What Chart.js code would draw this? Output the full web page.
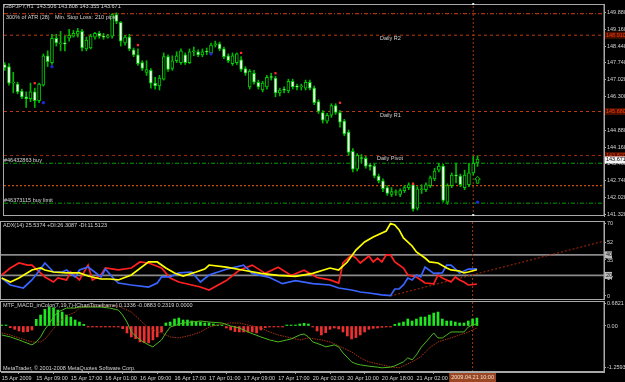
<!DOCTYPE html>
<html>
<head>
<meta charset="utf-8">
<title>GBPJPY,H1</title>
<script src="https://cdn.jsdelivr.net/npm/chart.js@4.4.1/dist/chart.umd.min.js"></script>
<style>
  html, body { margin: 0; padding: 0; background: #000; overflow: hidden; }
  #wrap { position: relative; width: 625px; height: 382px; background: #000; }
  #wrap canvas { position: absolute; left: 0; }
</style>
</head>
<body>
<div id="wrap">
  <canvas id="price" width="625" height="220" style="top:0px"></canvas>
  <canvas id="adx" width="625" height="80" style="top:220px"></canvas>
  <canvas id="macd" width="625" height="82" style="top:300px"></canvas>
</div>
<script>
// ---- data (bar index 0 = 15 Apr 01:00, one bar per hour) ----
const symbol = 'GBPJPY,H1';

const opens = [
  147.67,147.58,146.88,146.84,146.55,146.30,146.22,146.51,146.14,146.80,
  148.04,147.75,148.78,148.54,148.58,148.78,148.87,148.95,149.07,148.33,
  148.37,148.83,148.99,148.87,148.83,148.87,149.78,149.45,148.58,148.83,
  148.29,148.08,147.75,147.34,147.42,146.88,146.76,147.05,148.00,147.50,
  147.83,147.75,148.08,147.75,148.21,148.21,148.08,148.21,148.16,148.49,
  148.54,148.33,148.04,147.71,147.75,147.87,147.50,146.72,147.30,146.92,
  146.59,146.72,147.13,147.09,146.47,146.59,146.55,146.96,146.72,146.72,
  146.67,146.92,146.67,146.10,145.64,145.27,145.52,145.93,145.64,145.27,
  144.81,143.99,143.24,143.70,143.70,143.37,143.37,142.95,142.75,142.46,
  142.17,142.25,142.17,142.33,142.46,142.58,141.59,142.37,142.37,142.54,
  142.83,143.20,143.37,141.84,142.54,142.99,142.95,142.46,142.58,143.08,
  143.506
];
const highs = [
  147.75,147.71,147.34,146.92,146.63,146.51,146.88,146.67,146.88,148.12,
  148.25,148.95,148.95,149.07,148.87,149.16,149.11,149.20,149.16,148.83,
  148.95,149.03,149.07,148.99,148.95,149.82,149.86,149.49,148.91,148.95,
  148.37,148.33,147.83,147.83,147.50,147.13,147.21,148.16,148.08,148.04,
  148.21,148.33,148.16,148.33,148.41,148.29,148.33,148.37,148.58,148.66,
  148.62,148.41,148.12,148.16,148.16,148.00,147.58,147.46,147.42,147.01,
  146.96,147.21,147.30,147.17,146.67,146.72,147.05,147.05,146.84,146.84,
  147.01,147.01,146.76,146.18,145.72,145.60,146.01,146.01,145.72,145.35,
  144.90,144.11,143.90,143.86,143.78,143.49,143.45,143.03,142.83,142.54,
  142.46,142.37,142.41,142.54,142.66,142.66,142.50,142.58,142.66,142.95,
  143.28,143.49,143.45,142.62,143.08,143.49,143.03,143.20,143.49,143.78,
  143.808
];
const lows = [
  147.42,146.80,146.47,146.43,146.22,145.85,146.10,145.85,146.05,146.76,
  147.58,147.67,148.45,148.25,148.25,148.66,148.83,148.83,148.25,148.25,
  148.33,148.74,148.78,148.74,148.78,148.78,149.40,148.45,148.49,148.25,
  148.00,147.63,147.42,147.21,146.67,146.63,146.59,147.01,147.38,147.42,
  147.75,147.67,147.67,147.71,148.04,148.00,148.00,148.08,148.12,148.41,
  148.25,147.92,147.75,147.63,147.67,147.38,147.21,146.63,146.84,146.63,
  146.51,146.63,147.01,146.30,146.34,146.47,146.47,146.63,146.59,146.59,
  146.59,146.59,145.97,145.60,145.19,145.19,145.43,145.56,145.02,144.65,
  143.82,143.12,143.16,143.49,143.28,143.20,142.87,142.66,142.29,142.13,
  142.08,142.13,142.08,142.25,142.37,141.46,141.51,142.21,142.29,142.46,
  142.75,143.12,141.84,141.75,142.46,142.66,142.50,142.37,142.50,142.99,
  143.355
];
const closes = [
  147.54,146.88,146.92,146.51,146.30,146.22,146.51,146.14,146.84,148.04,
  147.79,148.78,148.58,148.58,148.54,148.91,148.99,149.07,148.37,148.70,
  148.87,148.99,148.87,148.83,148.87,149.78,149.49,148.66,148.83,148.33,
  148.08,147.71,147.50,147.46,146.88,146.76,147.09,148.00,147.46,147.83,
  148.04,148.25,147.75,148.21,148.25,148.08,148.21,148.20,148.49,148.54,
  148.33,148.00,147.83,148.04,148.12,147.46,147.30,147.38,146.92,146.72,
  146.88,147.13,147.12,146.47,146.59,146.58,146.96,146.72,146.71,146.73,
  146.92,146.67,146.05,145.68,145.31,145.52,145.93,145.64,145.23,144.73,
  143.95,143.24,143.82,143.69,143.37,143.36,142.95,142.75,142.41,142.21,
  142.29,142.26,142.33,142.46,142.58,141.55,142.41,142.38,142.58,142.87,
  143.16,143.37,141.92,142.54,142.99,142.95,142.58,142.99,143.08,143.49,
  143.671
];

// fractal marks above / below bars, and the buy arrow
const upFractals   = [[7,146.88],[31,148.49],[55,148.16],[63,147.30],[78,146.05],[95,142.62]];
const downFractals = [[9,146.05],[11,147.58],[48,148.12],[110,141.84]];
const buyArrow     = [110, 142.79];

// horizontal objects on the price pane
const levelNames  = ['', 'Daily R2', 'Daily R1', 'Daily Pivot', '#46432863 buy', '', '#46373115 buy limit'];
const levelPrices = [149.82, 148.91, 145.68, 143.82, 143.49, 142.54, 141.80];
const levelColors = ['#d04010', '#b83a10', '#b83a10', '#9a2a0c', '#00a000', '#ff5a10', '#00a000'];
const levelDashes = [[4,2,1,2], [3,3], [3,3], [3,3], [4,2,1,2], [2,2], [4,2,1,2]];
const axisTagLevels = [1, 2, 3];

const priceTicks = [149.88,149.16,148.44,147.74,147.02,146.30,144.88,144.16,143.46,142.74,142.02,141.32];

// time axis
const timeTickIdx = [0,8,16,24,32,40,48,56,64,72,80,88,96];
const timeLabels  = ['15 Apr 2009','15 Apr 09:00','15 Apr 17:00','16 Apr 01:00','16 Apr 09:00','16 Apr 17:00',
                     '17 Apr 01:00','17 Apr 09:00','17 Apr 17:00','20 Apr 02:00','20 Apr 10:00','20 Apr 18:00','21 Apr 02:00'];
const cursorIndex = 109;
const cursorLabel = '2009.04.21 10:00';

// ADX(14): [bar, value]
const adxPts = [[0,17.5],[2,13.6],[4,17.5],[7,25.3],[9,27.2],[10,25.3],[12,23.3],[15,22.4],[18,22.4],[20,19.4],
  [23,16.5],[25,16.5],[27,15.6],[30,20.4],[34,33.1],[36,33.1],[38,27.2],[40,22.4],[42,19.4],[45,23.3],[47,26.2],
  [48,30.1],[52,28],[56,25],[60,22],[64,20],[68,19],[72,22],[76,27.2],[78,25.3],[80,33],[82,44.7],[84,52.5],
  [86,57.4],[89,63.2],[90,70.5],[91,69],[92,64.2],[93,56.4],[95,48.6],[96,42.8],[98,36.9],[99,33.1],[101,32.1],
  [103,27.2],[104,25.3],[106,24.3],[107,22.4],[108,23.3],[110,25.5]];
const plusDiPts = [[0,17.5],[2,10.7],[5,7.8],[7,15.6],[9,26.2],[10,32.1],[12,23.3],[14,23.3],[15,25.3],[17,18.5],
  [18,25.3],[20,28.2],[23,18.5],[24,26.2],[26,16.5],[27,12.6],[30,10.7],[34,8.7],[36,12.6],[37,18.5],[39,18.5],
  [41,22.4],[44,23.3],[46,13.6],[48,20.4],[52,26],[56,30],[58,22],[62,18],[65,12],[68,15],[72,12],[76,10.7],
  [78,7.8],[81,5.8],[83,3.9],[85,2.9],[88,1],[90,0.3],[91,6.8],[92,6.8],[93,10.7],[94,17.5],[95,15.6],[96,20.4],
  [97,18.5],[98,28.2],[100,22],[102,22.4],[103,30.1],[104,30.1],[106,22.4],[108,26.2],[110,26.3]];
const minusDiPts = [[0,20.4],[2,27.2],[4,32.1],[6,30.1],[7,30.1],[10,18.5],[12,13.6],[13,17.5],[15,15.6],[16,23.3],
  [18,15.6],[20,30.1],[21,15.6],[23,20.4],[24,27.2],[27,25.3],[30,27.2],[32,33.1],[34,32.1],[37,27.2],[39,17.5],
  [41,13.6],[46,8.7],[48,5.8],[52,15],[55,25],[58,30],[61,22],[64,28],[67,20],[70,25],[73,18],[76,15.6],[78,12.6],
  [79,32.1],[81,39.9],[82,36.9],[83,32.1],[85,38.9],[86,33.1],[87,36.9],[88,33.1],[89,39.9],[90,39.9],[91,33.1],
  [93,27.2],[94,20.4],[96,18.5],[97,15.6],[98,12.6],[100,11.7],[101,20.4],[102,17.5],[104,13.6],[105,18.5],
  [106,15.6],[107,13.6],[108,10.7],[110,11.5]];
const adxLevels = [40, 20];
const adxTicks = [70, 52, 35, 17, 0];
const adxTrend = [[90, 0], [139.4, 53.3]];

// MTF_MACD_inColor: histogram per bar, MACD and signal lines as [bar, value]
const macdHist = [
   0.02, 0.01,-0.05,-0.10,-0.15,-0.18,-0.17,-0.12, 0.20, 0.33,
   0.50, 0.57, 0.55, 0.48, 0.42, 0.33, 0.27, 0.18, 0.12, 0.05,
  -0.02,-0.02,-0.02,-0.02,-0.02,-0.02,-0.02,-0.02,-0.08,-0.21,
  -0.33,-0.38,-0.48,-0.50,-0.51,-0.42,-0.33,-0.18, 0.09, 0.12,
   0.21, 0.24, 0.18, 0.18, 0.15, 0.12, 0.12, 0.09, 0.09, 0.06,
   0.03, 0.02,-0.06,-0.12,-0.17,-0.18,-0.18,-0.18,-0.18,-0.21,
  -0.12,-0.05,-0.02,-0.02,-0.02,-0.01, 0.01, 0.02, 0.02, 0.06,
   0.08, 0.06,-0.03,-0.15,-0.27,-0.20,-0.10,-0.06,-0.09,-0.18,
  -0.30,-0.39,-0.35,-0.27,-0.18,-0.10,-0.07,-0.06,-0.04,-0.03,
  -0.02, 0.05, 0.09, 0.12, 0.21, 0.15, 0.21, 0.27, 0.27, 0.33,
   0.39, 0.42, 0.21, 0.15, 0.15, 0.12, 0.09, 0.09, 0.15, 0.21,
   0.24
];
const macdPts = [[0,-0.27],[2,-0.33],[4,-0.42],[7,-0.57],[8,-0.48],[9,-0.33],[10,-0.1],[11,0.07],[12,0.27],[13,0.42],
  [15,0.54],[17,0.54],[18,0.57],[23,0.57],[25,0.54],[27,0.48],[28,0.33],[29,0.12],[30,-0.18],[32,-0.42],[34,-0.57],
  [35,-0.63],[37,-0.42],[38,-0.21],[39,-0.03],[42,0.09],[46,0.15],[48,0.12],[51,0.09],[53,0],[55,-0.06],[57,-0.18],
  [60,-0.33],[62,-0.42],[64,-0.48],[67,-0.39],[69,-0.27],[70,-0.24],[71,-0.33],[72,-0.48],[74,-0.57],[75,-0.63],
  [77,-0.57],[78,-0.63],[79,-0.81],[81,-1.08],[82,-1.14],[83,-1.17],[85,-1.21],[87,-1.24],[88,-1.26],[90,-1.24],
  [91,-1.2],[93,-1.08],[94,-0.96],[95,-1.02],[96,-0.87],[97,-0.66],[98,-0.51],[100,-0.21],[101,-0.36],[102,-0.36],
  [103,-0.27],[104,-0.18],[107,-0.18],[108,-0.03],[109,0.03],[110,0.06]];
const signalPts = [[0,-0.21],[2,-0.27],[4,-0.36],[7,-0.48],[9,-0.48],[10,-0.4],[12,-0.08],[13,0.1],[14,0.2],[15,0.3],
  [17,0.42],[18,0.54],[20,0.6],[27,0.6],[28,0.54],[30,0.42],[32,0.18],[34,-0.06],[37,-0.21],[39,-0.33],[41,-0.36],
  [44,-0.27],[46,-0.18],[48,-0.03],[51,0.06],[53,0.09],[55,0.09],[57,0.03],[60,-0.06],[62,-0.18],[64,-0.27],
  [67,-0.36],[69,-0.42],[71,-0.36],[74,-0.42],[76,-0.48],[78,-0.6],[81,-0.78],[83,-0.96],[85,-1.08],[88,-1.17],
  [90,-1.23],[92,-1.26],[93,-1.2],[95,-1.08],[97,-0.93],[99,-0.66],[101,-0.48],[104,-0.36],[106,-0.27],
  [108,-0.18],[110,-0.06]];
const macdTicks = [0.6821, 0, -1.2593];
const macdTickLabels = ['0.6821', '0.00', '-1.2593'];

// ---- look ----
const X_MIN = -0.16, X_MAX = 139.42;
const FONT_SIZE = 5.5;
const FONT = FONT_SIZE + "px 'Liberation Sans', Arial, sans-serif";
const TEXT = '#d4d4d4';
const FRAME = '#a8a8a8';
const CANDLE_LINE = '#00d000';

Chart.defaults.font.family = "'Liberation Sans', Arial, sans-serif";
Chart.defaults.font.size = FONT_SIZE;
Chart.defaults.color = TEXT;
Chart.defaults.animation = false;
Chart.defaults.plugins.legend.display = false;
Chart.defaults.plugins.tooltip.enabled = false;

const pts = arr => arr.map(p => ({ x: p[0], y: p[1] }));

function xAxis(show) {
  const ax = { type: 'linear', min: X_MIN, max: X_MAX, offset: false, display: show };
  if (show) {
    Object.assign(ax, {
      afterBuildTicks: s => { s.ticks = timeTickIdx.map(v => ({ value: v })); },
      afterFit: s => { s.height = 10; s.paddingLeft = 0; s.paddingRight = 0; },
      grid: { drawOnChartArea: false, color: FRAME, tickLength: 2 },
      border: { color: FRAME },
      ticks: { align: 'start', padding: 1, maxRotation: 0, autoSkip: false,
               callback: (v, i) => timeLabels[i] }
    });
  } else {
    ax.grid = { display: false };
  }
  return ax;
}

function yAxis(min, max, tickVals, fmt) {
  return {
    type: 'linear', position: 'right', min, max,
    afterBuildTicks: s => { s.ticks = tickVals.map(v => ({ value: v })); },
    afterFit: s => { s.width = 21; s.paddingTop = 0; s.paddingBottom = 0; },
    grid: { drawOnChartArea: false, color: FRAME, tickLength: 2 },
    border: { color: FRAME },
    ticks: { padding: 1, autoSkip: false, callback: fmt }
  };
}

function vline(yMin, yMax) {
  return { type: 'line', data: [{ x: cursorIndex, y: yMin }, { x: cursorIndex, y: yMax }],
           borderColor: '#a8340e', borderWidth: 1, borderDash: [2, 2], pointRadius: 0, order: 9 };
}

const frame = {
  id: 'frame',
  afterDraw(chart) {
    const a = chart.chartArea, ctx = chart.ctx;
    ctx.save();
    ctx.strokeStyle = FRAME;
    ctx.lineWidth = 1;
    ctx.strokeRect(a.left - 0.5, a.top + 0.5, a.right - a.left + 0.5, a.bottom - a.top - 1);
    ctx.restore();
  }
};

function axisTag(ctx, chart, py, text, bg, fg, w) {
  const x0 = chart.chartArea.right + 1;
  ctx.fillStyle = bg;
  ctx.fillRect(x0, py - 3.5, w, 7);
  ctx.fillStyle = fg;
  ctx.textAlign = 'left';
  ctx.textBaseline = 'middle';
  ctx.fillText(text, x0 + 1, py);
}

// ---- price pane ----
const levelTextPos = [null, [380, 3.5], [380, 4], [377, 3.5], [4, -3], null, [4, -3]];

const priceDecor = {
  id: 'priceDecor',
  afterDraw(chart) {
    const { ctx, scales: { x, y }, chartArea } = chart;
    const n = closes.length - 1;
    ctx.save();
    ctx.font = FONT;
    ctx.textBaseline = 'middle';
    ctx.textAlign = 'left';
    ctx.fillStyle = TEXT;
    ctx.fillText(symbol + '  ' + [opens[n], highs[n], lows[n], closes[n]].map(v => v.toFixed(3)).join(' '), 4, 6);
    ctx.fillText('300% of ATR (28)', 6, 17);
    ctx.fillText('Min. Stop Loss:', 55, 17);
    ctx.fillText('210 pips', 95, 17);
    levelNames.forEach((name, i) => {
      if (!name) return;
      const pos = levelTextPos[i];
      ctx.fillText(name, pos[0], y.getPixelForValue(levelPrices[i]) + pos[1]);
    });
    // price tags on the axis
    axisTagLevels.forEach(i => {
      axisTag(ctx, chart, y.getPixelForValue(levelPrices[i]), levelPrices[i].toFixed(3), '#4c1000', '#ff3a00', 20);
    });
    axisTag(ctx, chart, y.getPixelForValue(closes[n]) + 1, closes[n].toFixed(3), '#f4f4f4', '#000', 20);
    // buy arrow (outlined)
    const ax = x.getPixelForValue(buyArrow[0]), ay = y.getPixelForValue(buyArrow[1]);
    ctx.strokeStyle = '#00c000';
    ctx.lineWidth = 1;
    ctx.beginPath();
    ctx.moveTo(ax, ay - 3.5);
    ctx.lineTo(ax + 2.8, ay - 0.5);
    ctx.lineTo(ax + 1.2, ay - 0.5);
    ctx.lineTo(ax + 1.2, ay + 3.5);
    ctx.lineTo(ax - 1.2, ay + 3.5);
    ctx.lineTo(ax - 1.2, ay - 0.5);
    ctx.lineTo(ax - 2.8, ay - 0.5);
    ctx.closePath();
    ctx.stroke();
    // cursor handles
    const cx = x.getPixelForValue(cursorIndex);
    ctx.fillStyle = '#e8e8e8';
    ctx.fillRect(cx - 1, chartArea.top - 1, 2, 2);
    ctx.fillRect(cx - 1, chartArea.bottom - 2, 2, 2);
    ctx.restore();
  }
};

const PRICE_MIN = 141.257, PRICE_MAX = 150.231;

const levelSets = levelPrices.map((p, i) => ({
  type: 'line', data: [{ x: X_MIN, y: p }, { x: X_MAX, y: p }],
  borderColor: levelColors[i], borderDash: levelDashes[i], borderWidth: 1, pointRadius: 0, order: 10
}));

new Chart(document.getElementById('price'), {
  type: 'bar',
  data: {
    datasets: [
      ...levelSets,
      vline(PRICE_MIN, PRICE_MAX),
      { label: 'wick', data: closes.map((c, i) => ({ x: i, y: [lows[i], highs[i]] })),
        backgroundColor: '#00b800', barThickness: 1, grouped: false, order: 2 },
      { label: 'body', data: closes.map((c, i) => ({ x: i, y: [Math.min(opens[i], c), Math.max(opens[i], c)] })),
        backgroundColor: closes.map((c, i) => (c < opens[i] ? '#ffffff' : '#000000')),
        borderColor: CANDLE_LINE, borderWidth: 1, borderSkipped: false, barThickness: 3, minBarLength: 1,
        grouped: false, order: 1 },
      { type: 'scatter', data: pts(upFractals), pointStyle: 'rect', pointRadius: 1.6,
        backgroundColor: '#ff2a2a', borderWidth: 0, order: 0 },
      { type: 'scatter', data: pts(downFractals), pointStyle: 'circle', pointRadius: 1.7,
        backgroundColor: '#1a2ad0', borderWidth: 0, order: 0 }
    ]
  },
  options: {
    responsive: false,
    layout: { padding: { left: 1, top: 2, right: 0, bottom: 1 } },
    scales: {
      x: xAxis(false),
      y: yAxis(PRICE_MIN, PRICE_MAX, priceTicks, v => v.toFixed(3))
    }
  },
  plugins: [frame, priceDecor]
});

// ---- ADX pane ----
const ADX_MIN = -3.9, ADX_MAX = 72.9;
const adxDecor = {
  id: 'adxDecor',
  afterDraw(chart) {
    const { ctx, scales: { y } } = chart;
    ctx.save();
    ctx.font = FONT;
    ctx.textBaseline = 'middle';
    ctx.fillStyle = TEXT;
    ctx.fillText('ADX(14) 25.5374 +DI:26.3087 -DI:11.5123', 3, 5);
    adxLevels.forEach(l => axisTag(ctx, chart, y.getPixelForValue(l), String(l), '#bcbcbc', '#202020', 7));
    ctx.restore();
  }
};

new Chart(document.getElementById('adx'), {
  type: 'line',
  data: {
    datasets: [
      ...adxLevels.map(l => ({ data: [{ x: X_MIN, y: l }, { x: X_MAX, y: l }], borderColor: '#8a8a8a',
        borderWidth: 1.6, pointRadius: 0, order: 10 })),
      vline(ADX_MIN, ADX_MAX),
      { data: pts(adxTrend), borderColor: '#b02c08', borderWidth: 1, borderDash: [2, 2], pointRadius: 0, order: 8 },
      { data: pts(minusDiPts), borderColor: '#ff2020', borderWidth: 1.7, pointRadius: 0, order: 3 },
      { data: pts(plusDiPts), borderColor: '#3a64ff', borderWidth: 1.7, pointRadius: 0, order: 2 },
      { data: pts(adxPts), borderColor: '#ffff00', borderWidth: 1.7, pointRadius: 0, order: 1 }
    ]
  },
  options: {
    responsive: false,
    layout: { padding: { left: 1, top: 1, right: 0, bottom: 0 } },
    scales: {
      x: xAxis(false),
      y: yAxis(ADX_MIN, ADX_MAX, adxTicks, v => String(v))
    }
  },
  plugins: [frame, adxDecor]
});

// ---- MACD pane ----
const MACD_MIN = -1.386, MACD_MAX = 0.753;
const macdDecor = {
  id: 'macdDecor',
  afterDraw(chart) {
    const { ctx, scales: { x }, chartArea } = chart;
    ctx.save();
    ctx.font = FONT;
    ctx.textBaseline = 'middle';
    ctx.fillStyle = TEXT;
    ctx.fillText('MTF_MACD_inColor(7,19,7)-[ChartTimeframe] 0.1336 -0.0883 0.2319 0.0000', 3, 5);
    ctx.fillText('MetaTrader, \u00a9 2001-2008 MetaQuotes Software Corp.', 3, 68);
    const cx = x.getPixelForValue(cursorIndex);
    const w = ctx.measureText(cursorLabel).width + 4;
    ctx.fillStyle = '#9a4824';
    ctx.fillRect(cx - w / 2, chartArea.bottom + 1, w, 9);
    ctx.fillStyle = '#f0dcd0';
    ctx.textAlign = 'center';
    ctx.fillText(cursorLabel, cx, chartArea.bottom + 5.5);
    ctx.restore();
  }
};

new Chart(document.getElementById('macd'), {
  type: 'bar',
  data: {
    datasets: [
      vline(MACD_MIN, MACD_MAX),
      { type: 'line', data: pts(signalPts), borderColor: '#a83410', borderWidth: 1, borderDash: [1.5, 1],
        pointRadius: 0, order: 2 },
      { type: 'line', data: pts(macdPts), borderColor: '#4cb81e', borderWidth: 1, pointRadius: 0, order: 1 },
      { data: macdHist.map((v, i) => ({ x: i, y: v })),
        backgroundColor: macdHist.map(v => (v >= 0 ? '#1ee81e' : '#f03030')),
        barThickness: 2, minBarLength: 1, grouped: false, order: 3 }
    ]
  },
  options: {
    responsive: false,
    layout: { padding: { left: 1, top: 1, right: 0, bottom: 0 } },
    scales: {
      x: xAxis(true),
      y: yAxis(MACD_MIN, MACD_MAX, macdTicks, (v, i) => macdTickLabels[i])
    }
  },
  plugins: [frame, macdDecor]
});
</script>
</body>
</html>
